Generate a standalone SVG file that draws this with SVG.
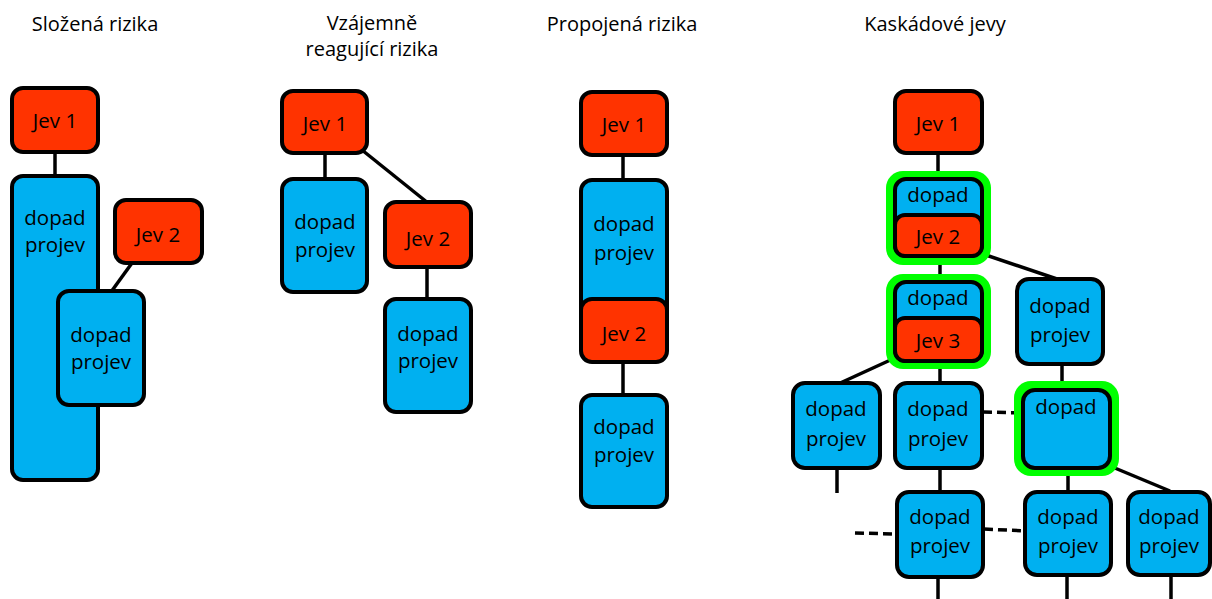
<svg xmlns="http://www.w3.org/2000/svg" width="1212" height="599" viewBox="0 0 1212 599">
<style>
.t{font-family:"Open Sans","Liberation Sans",sans-serif;font-size:20px;fill:#000;text-anchor:middle}
.n{font-family:"Open Sans","Liberation Sans",sans-serif;font-size:20.5px;fill:#000;text-anchor:middle}
.r{fill:#FF3300;stroke:#000;stroke-width:4}
.b{fill:#00B0F0;stroke:#000;stroke-width:4}
.g{fill:#00FF00}
.c line{stroke:#000;stroke-width:3.5}
.c .d{stroke-dasharray:9 5}
</style>
<rect width="1212" height="599" fill="#fff"/>
<g id="titles">
<text class="t" x="95" y="31">Složená rizika</text>
<text class="t" x="372" y="30">Vzájemně</text>
<text class="t" x="372" y="56">reagující rizika</text>
<text class="t" x="622" y="31">Propojená rizika</text>
<text class="t" x="935" y="31">Kaskádové jevy</text>
</g>
<g class="c" id="connectors">
<line x1="55" y1="152" x2="55" y2="177"/>
<line x1="132" y1="263" x2="111" y2="292"/>
<line x1="325" y1="153" x2="325" y2="180"/>
<line x1="362" y1="150" x2="428" y2="203"/>
<line x1="427" y1="267" x2="427" y2="300"/>
<line x1="623" y1="155" x2="623" y2="182"/>
<line x1="623" y1="362" x2="623" y2="396"/>
<line x1="938" y1="153" x2="938" y2="180"/>
<line x1="940" y1="256" x2="940" y2="283"/>
<line x1="980" y1="253" x2="1060" y2="280"/>
<line x1="940" y1="361" x2="940" y2="384"/>
<line x1="897" y1="357" x2="838" y2="384"/>
<line x1="837" y1="468" x2="837" y2="493"/>
<line x1="1062" y1="364" x2="1062" y2="391"/>
<line class="d" x1="983" y1="412" x2="1024" y2="413"/>
<line x1="940" y1="468" x2="940" y2="493"/>
<line x1="1068" y1="468" x2="1068" y2="493"/>
<line x1="1110" y1="466" x2="1170" y2="491"/>
<line class="d" x1="855" y1="533" x2="897" y2="534"/>
<line class="d" x1="984" y1="529" x2="1026" y2="531"/>
<line x1="938" y1="577" x2="938" y2="599"/>
<line x1="1067" y1="575" x2="1067" y2="599"/>
<line x1="1171" y1="575" x2="1171" y2="599"/>
</g>
<g id="p1-jev1"><rect class="r" x="12" y="88" width="86" height="64" rx="11"/><text class="n" x="55" y="128">Jev 1</text></g>
<g id="p1-dopad1"><rect class="b" x="12" y="176" width="86" height="304" rx="11"/><text class="n" x="55" y="225">dopad</text><text class="n" x="55" y="252">projev</text></g>
<g id="p1-jev2"><rect class="r" x="115" y="200" width="87" height="63" rx="11"/><text class="n" x="158" y="242">Jev 2</text></g>
<g id="p1-dopad2"><rect class="b" x="58" y="291" width="86" height="114" rx="11"/><text class="n" x="101" y="342">dopad</text><text class="n" x="101" y="369">projev</text></g>
<g id="p2-jev1"><rect class="r" x="282" y="91" width="85" height="62" rx="11"/><text class="n" x="325" y="131">Jev 1</text></g>
<g id="p2-dopad1"><rect class="b" x="282" y="179" width="85" height="113" rx="11"/><text class="n" x="325" y="229">dopad</text><text class="n" x="325" y="257">projev</text></g>
<g id="p2-jev2"><rect class="r" x="385" y="202" width="86" height="65" rx="11"/><text class="n" x="428" y="246">Jev 2</text></g>
<g id="p2-dopad2"><rect class="b" x="385" y="299" width="86" height="113" rx="11"/><text class="n" x="428" y="341">dopad</text><text class="n" x="428" y="368">projev</text></g>
<g id="p3-jev1"><rect class="r" x="581" y="92" width="86" height="63" rx="11"/><text class="n" x="624" y="132">Jev 1</text></g>
<g id="p3-dopad1"><rect class="b" x="581" y="180" width="86" height="140" rx="11"/><text class="n" x="624" y="231">dopad</text><text class="n" x="624" y="260">projev</text></g>
<g id="p3-jev2"><rect class="r" x="581" y="299" width="86" height="63" rx="11"/><text class="n" x="624" y="341">Jev 2</text></g>
<g id="p3-dopad2"><rect class="b" x="581" y="395" width="86" height="112" rx="11"/><text class="n" x="624" y="434">dopad</text><text class="n" x="624" y="462">projev</text></g>
<g id="p4-jev1"><rect class="r" x="895" y="91" width="87" height="62" rx="11"/><text class="n" x="938" y="131">Jev 1</text></g>
<g id="p4-jev2"><rect class="g" x="886" y="171" width="105" height="94" rx="17"/><rect class="b" x="895" y="179" width="87" height="77" rx="11"/><rect class="r" x="895" y="215" width="87" height="41" rx="10"/><text class="n" x="938" y="202">dopad</text><text class="n" x="938" y="244">Jev 2</text></g>
<g id="p4-jev3"><rect class="g" x="886" y="274" width="105" height="95" rx="17"/><rect class="b" x="895" y="282" width="87" height="79" rx="11"/><rect class="r" x="895" y="318" width="87" height="43" rx="10"/><text class="n" x="938" y="305">dopad</text><text class="n" x="938" y="348">Jev 3</text></g>
<g id="p4-dopad-r1"><rect class="b" x="1017" y="279" width="86" height="85" rx="12"/><text class="n" x="1060" y="313">dopad</text><text class="n" x="1060" y="342">projev</text></g>
<g id="p4-dopad-l2"><rect class="b" x="793" y="383" width="87" height="85" rx="12"/><text class="n" x="836" y="416">dopad</text><text class="n" x="836" y="446">projev</text></g>
<g id="p4-dopad-c2"><rect class="b" x="895" y="383" width="87" height="85" rx="12"/><text class="n" x="938" y="416">dopad</text><text class="n" x="938" y="446">projev</text></g>
<g id="p4-dopad-g3"><rect class="g" x="1014" y="381" width="105" height="95" rx="17"/><rect class="b" x="1023" y="390" width="87" height="78" rx="12"/><text class="n" x="1066" y="414">dopad</text></g>
<g id="p4-dopad-c3"><rect class="b" x="897" y="492" width="86" height="85" rx="12"/><text class="n" x="940" y="524">dopad</text><text class="n" x="940" y="553">projev</text></g>
<g id="p4-dopad-m3"><rect class="b" x="1025" y="492" width="86" height="83" rx="12"/><text class="n" x="1068" y="524">dopad</text><text class="n" x="1068" y="553">projev</text></g>
<g id="p4-dopad-r3"><rect class="b" x="1128" y="492" width="82" height="83" rx="12"/><text class="n" x="1169" y="524">dopad</text><text class="n" x="1169" y="553">projev</text></g>
</svg>
